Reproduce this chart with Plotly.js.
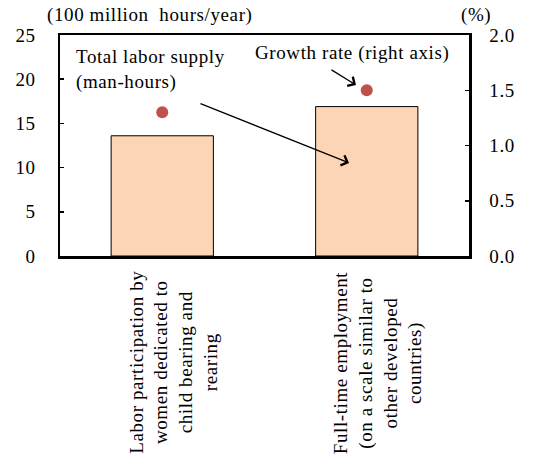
<!DOCTYPE html>
<html>
<head>
<meta charset="utf-8">
<script src="https://cdn.plot.ly/plotly-3.0.1.min.js"></script>
<style>
  html, body { margin: 0; padding: 0; background: #fff; }
  #chart { width: 545px; height: 463px; }
  /* slightly open tracking for the serif labels */
  svg text { letter-spacing: 0.6px; }
</style>
</head>
<body>
<div id="chart"></div>
<script>
// Scenario categories (line breaks as shown under the axis)
const categories = [
  "Labor participation by<br>women dedicated to<br>child bearing and<br>rearing",
  "Full-time employment<br>(on a scale similar to<br>other developed<br>countries)"
];
const categoryKeys = ["women", "fulltime"];
// Total labor supply, 100 million hours/year (left axis)
const laborSupply = [13.6, 16.9];
// Growth rate, % (right axis)
const growthRate = [1.3, 1.5];

const FONT = "Liberation Serif, Times New Roman, serif";
const txt = (size) => ({ family: FONT, size: size, color: "#000" });

const traces = [
  {
    type: "bar",
    x: categoryKeys,
    y: laborSupply,
    marker: { color: "#FBD5B5", line: { color: "#000000", width: 1 } },
    width: 0.5,
    hoverinfo: "y"
  },
  {
    type: "scatter",
    mode: "markers",
    x: categoryKeys,
    y: growthRate,
    yaxis: "y2",
    marker: { color: "#C0504D", size: 12 },
    hoverinfo: "y"
  }
];

const annotations = [
  { text: "(100 million  hours/year)", xref: "paper", yref: "paper", x: -0.037, y: 1.09,
    xanchor: "left", yanchor: "middle", showarrow: false, font: txt(19) },
  { text: "(%)", xref: "paper", yref: "paper", x: 1.017, y: 1.09,
    xanchor: "center", yanchor: "middle", showarrow: false, font: txt(19) },
  { text: "Total labor supply<br>(man-hours)", xref: "paper", yref: "paper", x: 0.035, y: 0.842,
    xanchor: "left", yanchor: "middle", align: "left", showarrow: false, font: txt(19) },
  { text: "Growth rate (right axis)", xref: "paper", yref: "paper", x: 0.472, y: 0.919,
    xanchor: "left", yanchor: "middle", showarrow: false, font: txt(19) },
  // arrow: label -> bar
  { text: "", xref: "paper", yref: "paper", x: 0.7066, y: 0.421, ax: -150, ay: -60,
    showarrow: true, arrowhead: 4, arrowsize: 1.6, arrowwidth: 1.3, arrowcolor: "#000" },
  // arrow: label -> growth-rate marker
  { text: "", xref: "paper", yref: "paper", x: 0.7237, y: 0.774, ax: -26, ay: -16,
    showarrow: true, arrowhead: 4, arrowsize: 1.6, arrowwidth: 1.3, arrowcolor: "#000" }
];

// Category labels, rotated and centred under each bar
categories.forEach((label, i) => {
  annotations.push({
    text: label, xref: "x", yref: "paper", x: categoryKeys[i], y: 0,
    xanchor: "center", yanchor: "top", yshift: -13, xshift: 11,
    textangle: -90, showarrow: false, align: "center", font: txt(19)
  });
});

const layout = {
  width: 545,
  height: 463,
  margin: { l: 60, r: 76, t: 35, b: 207 },
  paper_bgcolor: "#fff",
  plot_bgcolor: "#fff",
  font: txt(19),
  showlegend: false,
  bargap: 0.5,
  xaxis: {
    type: "category",
    showticklabels: false,
    ticks: "",
    showgrid: false,
    showline: true,
    mirror: true,
    linecolor: "#000",
    linewidth: 2.5,
    zeroline: false
  },
  yaxis: {
    range: [0, 25],
    tickvals: [0, 5, 10, 15, 20, 25],
    ticks: "inside",
    ticklen: 4,
    tickwidth: 1.5,
    tickcolor: "#000",
    ticklabelstandoff: 18,
    tickfont: txt(19),
    showgrid: false,
    zeroline: false,
    showline: true,
    linecolor: "#000",
    linewidth: 2.5
  },
  yaxis2: {
    overlaying: "y",
    side: "right",
    range: [0, 2.0],
    tickvals: [0, 0.5, 1.0, 1.5, 2.0],
    tickformat: ".1f",
    ticks: "inside",
    ticklen: 4,
    tickwidth: 1.5,
    tickcolor: "#000",
    ticklabelstandoff: 14,
    tickfont: txt(19),
    showgrid: false,
    zeroline: false,
    showline: true,
    linecolor: "#000",
    linewidth: 2.5
  },
  annotations: annotations
};

Plotly.newPlot("chart", traces, layout, { displayModeBar: false, staticPlot: true });
</script>
</body>
</html>
